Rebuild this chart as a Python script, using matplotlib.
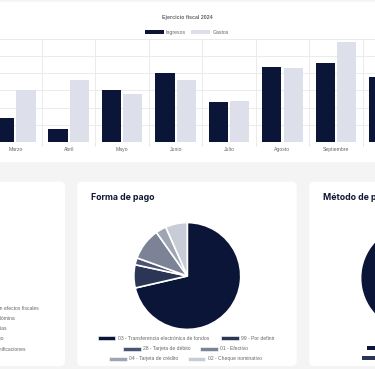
import numpy as np
import matplotlib
matplotlib.use("Agg")
import matplotlib.pyplot as plt
from matplotlib.patches import FancyBboxPatch, Rectangle

# ---- data ----
months = ['Marzo', 'Abril', 'Mayo', 'Junio', 'Julio', 'Agosto', 'Septiembre', 'Octubre']
ingresos = [1.37, 0.73, 3.03, 4.0, 2.31, 4.37, 4.61, 3.77]
gastos = [3.03, 3.61, 2.78, 3.61, 2.38, 4.32, 5.82, 3.5]

forma_labels = ['03 - Transferencia electrónica de fondos', '99 - Por definir',
                '28 - Tarjeta de débito', '01 - Efectivo',
                '04 - Tarjeta de crédito', '02 - Cheque nominativo']
forma_values = [71.4, 7.0, 2.1, 9.7, 3.2, 6.6]
forma_colors = ['#0b1538', '#2b3554', '#4b5573', '#7c8396', '#a0a5b4', '#c8ccd7']

metodo_values = [96, 4]
metodo_colors = ['#0b1538', '#2b3554']

uso_labels = ['S01 - Sin efectos fiscales', 'CN01 - Nómina', 'G01 - Adquisición de mercancías',
              'P01 - Por definir pago', 'G02 - Devoluciones, descuentos o bonificaciones']

W, H = 375, 369
fig = plt.figure(figsize=(W / 100, H / 100), dpi=100, facecolor='#f4f4f5')

def box(x, y, w, h):
    return [x / W, 1 - (y + h) / H, w / W, h / H]

# background axes in pixel coords
bg = fig.add_axes([0, 0, 1, 1])
bg.set_xlim(0, W)
bg.set_ylim(H, 0)
bg.axis('off')
bg.set_zorder(0)

for (x0, y0, x1, y1) in [(-10, 1.7, 385, 162.3), (-10, 181.7, 65, 366),
                         (77.3, 181.7, 296.7, 366), (309.3, 181.7, 400, 366)]:
    bg.add_patch(FancyBboxPatch((x0, y0), x1 - x0, y1 - y0,
                                boxstyle='round,pad=0,rounding_size=5',
                                fc='white', ec='none'))

# ---- bar chart ----
ax = fig.add_axes(box(-11.4, 39.3, 427.5, 102.4))
ax.set_zorder(1)
ax.patch.set_alpha(0)
x = np.arange(len(months))
ax.bar(x - 0.2, ingresos, 0.36, color='#0b1538', zorder=3)
ax.bar(x + 0.2, gastos, 0.36, color='#dde0ea', zorder=3)
ax.set_xlim(-0.5, len(months) - 0.5)
ax.set_ylim(0, 6)
ax.set_yticks(range(7))
ax.set_yticklabels([])
ax.tick_params(axis='y', length=0)
ax.set_xticks(x)
ax.set_xticklabels(months, fontsize=3.7, color='#666666', family='Liberation Sans')
ax.tick_params(axis='x', length=0, pad=4)
ax.set_xticks(np.arange(-0.5, len(months)), minor=True)
ax.tick_params(axis='x', which='minor', length=3, color='#e6e6e6', width=0.7)
ax.grid(axis='y', color='#ebebeb', lw=0.7, zorder=0)
ax.grid(axis='x', which='minor', color='#ebebeb', lw=0.7, zorder=0)
for s in ax.spines.values():
    s.set_visible(False)

bg.text(187, 17, 'Ejercicio fiscal 2024', ha='center', va='center', fontsize=3.8,
        color='#666666', family='Liberation Sans', fontweight='bold')
bg.add_patch(Rectangle((145, 30.2), 18.5, 4.3, fc='#0b1538', ec='none'))
bg.text(166, 32.3, 'Ingresos', va='center', fontsize=3.7, color='#666666', family='Liberation Sans')
bg.add_patch(Rectangle((191, 30.2), 18.5, 4.3, fc='#dde0ea', ec='none'))
bg.text(212.5, 32.3, 'Gastos', va='center', fontsize=3.7, color='#666666', family='Liberation Sans')

# ---- left card legend fragments ----
uso_ends = [39, 14.3, 6, 3, 25.7]
uso_y = [308.3, 318.5, 328.7, 338.7, 348.7]
for lab, xe, yy in zip(uso_labels, uso_ends, uso_y):
    bg.text(xe, yy, lab, ha='right', va='center', fontsize=3.6, color='#666666',
            family='Liberation Sans')

# ---- Forma de pago ----
bg.text(90.7, 197.3, 'Forma de pago', va='center', fontsize=6.3, fontweight='bold',
        color='#111a33', family='Inter')
R = 54.5
pa = fig.add_axes(box(187.3 - R, 276 - R, 2 * R, 2 * R))
pa.set_zorder(1)
pa.pie(forma_values, colors=forma_colors, startangle=90, counterclock=False,
       wedgeprops=dict(edgecolor='white', linewidth=1.2))
pa.set_xlim(-1.02, 1.02)
pa.set_ylim(-1.02, 1.02)
pa.set_aspect('equal')

leg_pos = [(97.7, 338.3), (221, 338.3), (123.3, 348.7), (200, 348.7), (109, 358.7), (187.7, 358.7)]
for lab, col, (lx, ly) in zip(forma_labels, forma_colors, leg_pos):
    bg.add_patch(Rectangle((lx, ly - 2.1), 17.5, 4.2, fc=col, ec='white', lw=0.4))
    bg.text(lx + 20, ly, lab, va='center', fontsize=3.6, color='#666666', family='Liberation Sans')

# ---- Método de pago ----
bg.text(322.7, 197.3, 'Método de pago', va='center', fontsize=6.3, fontweight='bold',
        color='#111a33', family='Inter')
pb = fig.add_axes(box(414 - R, 278 - R, 2 * R, 2 * R))
pb.set_zorder(1)
pb.pie(metodo_values, colors=metodo_colors, startangle=90, counterclock=False,
       wedgeprops=dict(edgecolor='white', linewidth=1.2))
pb.set_xlim(-1.02, 1.02)
pb.set_ylim(-1.02, 1.02)
pb.set_aspect('equal')
bg.add_patch(Rectangle((366.7, 345.6), 17.5, 4.2, fc=metodo_colors[0], ec='none'))
bg.add_patch(Rectangle((361.7, 355.6), 17.5, 4.2, fc=metodo_colors[1], ec='none'))

fig.savefig('out.png', dpi=100, facecolor=fig.get_facecolor())
